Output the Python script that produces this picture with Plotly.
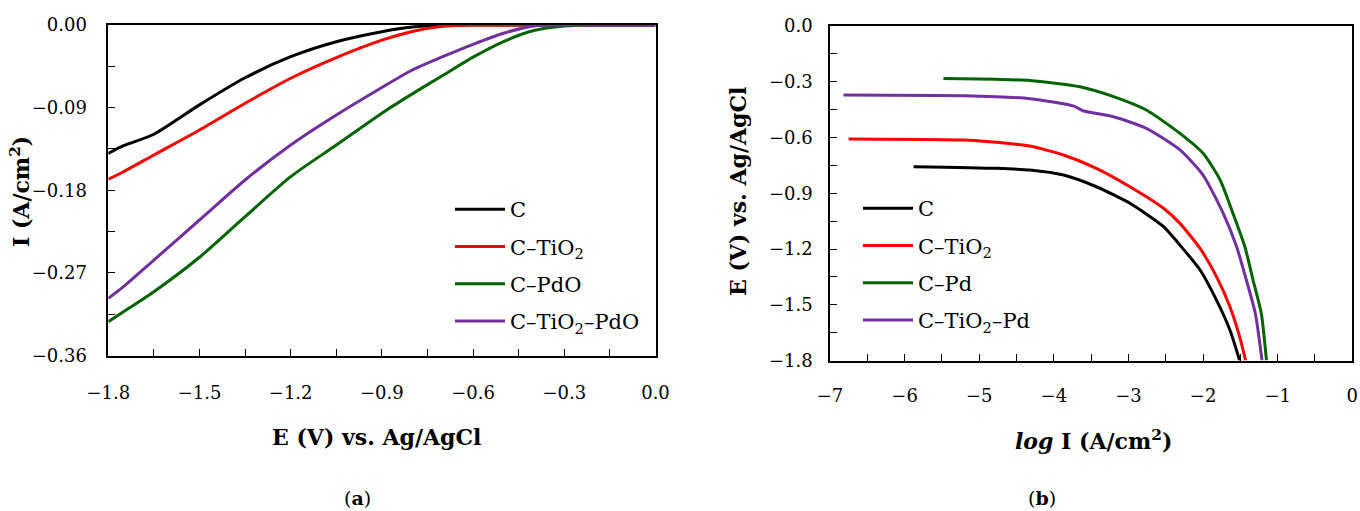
import plotly.graph_objects as go

# ---------- Panel (a): I vs E ----------
E_a      = [-1.80, -1.75, -1.65, -1.50, -1.35, -1.20, -1.05, -0.90, -0.80, -0.70, -0.60, -0.50, -0.40, -0.30, -0.20, -0.10, 0.00]
I_C      = [-0.140, -0.1315, -0.1190, -0.0870, -0.0575, -0.0345, -0.0182, -0.0073, -0.0022, -0.0003, 0.0, 0.0, 0.0, 0.0, 0.0, 0.0, 0.0]
I_CTiO2  = [-0.168, -0.1598, -0.1416, -0.1144, -0.0853, -0.0580, -0.0355, -0.0165, -0.0070, -0.0015, 0.0, 0.0, 0.0, 0.0, 0.0, 0.0, 0.0]
I_CPdO   = [-0.3232, -0.3123, -0.2905, -0.2530, -0.2088, -0.1652, -0.1307, -0.0960, -0.0750, -0.0550, -0.0350, -0.0180, -0.0060, -0.0012, 0.0, 0.0, 0.0]
I_CTiPdO = [-0.2977, -0.2850, -0.2560, -0.2124, -0.1688, -0.1307, -0.0980, -0.0680, -0.0490, -0.0345, -0.0210, -0.0090, -0.0010, 0.0, 0.0, 0.0, 0.0]

# ---------- Panel (b): Tafel plots ----------
logI_C    = [-5.88, -4.77, -4.32, -3.87, -3.43, -2.98, -2.53, -2.31, -2.04, -1.82, -1.64, -1.51]
E_C       = [-0.757, -0.766, -0.775, -0.802, -0.865, -0.954, -1.080, -1.179, -1.313, -1.475, -1.636, -1.800]
logI_Ti   = [-6.75, -5.21, -4.54, -4.32, -3.87, -3.43, -2.98, -2.53, -2.31, -2.04, -1.82, -1.64, -1.51, -1.43]
E_Ti      = [-0.608, -0.614, -0.635, -0.646, -0.694, -0.766, -0.865, -0.981, -1.062, -1.197, -1.349, -1.511, -1.672, -1.800]
logI_Pd   = [-5.48, -4.77, -4.32, -3.65, -3.20, -2.76, -2.31, -2.00, -1.77, -1.60, -1.44, -1.33, -1.22, -1.15]
E_Pd      = [-0.282, -0.287, -0.293, -0.327, -0.380, -0.452, -0.578, -0.685, -0.829, -1.008, -1.188, -1.367, -1.546, -1.800]
logI_TiPd = [-6.82, -5.21, -4.32, -3.74, -3.61, -3.20, -2.76, -2.31, -2.00, -1.73, -1.55, -1.42, -1.30, -1.21]
E_TiPd    = [-0.371, -0.375, -0.391, -0.430, -0.456, -0.488, -0.551, -0.667, -0.802, -1.008, -1.188, -1.367, -1.546, -1.800]

names_a = ["C", "C–TiO<sub>2</sub>", "C–PdO", "C–TiO<sub>2</sub>–PdO"]
names_b = ["C", "C–TiO<sub>2</sub>", "C–Pd", "C–TiO<sub>2</sub>–Pd"]
colors = ["#000000", "#FF0000", "#006400", "#7030A0"]

FONT = "DejaVu Serif"
fig = go.Figure()

for i, (ys, nm, col) in enumerate(zip([I_C, I_CTiO2, I_CPdO, I_CTiPdO], names_a, colors)):
    fig.add_trace(go.Scatter(x=E_a, y=ys, mode="lines", name=nm,
                             line=dict(color=col, width=3, shape="spline", smoothing=0.7),
                             xaxis="x", yaxis="y", legend="legend", legendgroup="a%d" % i))

for i, (xs, ys, nm, col) in enumerate(zip([logI_C, logI_Ti, logI_Pd, logI_TiPd],
                                            [E_C, E_Ti, E_Pd, E_TiPd], names_b, colors)):
    fig.add_trace(go.Scatter(x=xs, y=ys, mode="lines", name=nm,
                             line=dict(color=col, width=3, shape="spline", smoothing=0.6),
                             xaxis="x2", yaxis="y2", legend="legend2", legendgroup="b%d" % i))

W, H = 1360, 511
def px(x): return x / W
def py(y): return 1 - y / H

axcommon = dict(showline=True, linecolor="black", linewidth=1.5, mirror=True, automargin=False,
                ticks="inside", ticklen=7, tickcolor="black", showgrid=False, zeroline=False,
                ticklabeloverflow="allow",
                tickfont=dict(family=FONT, size=18, color="black"))

fig.update_layout(
    width=W, height=H, margin=dict(l=0, r=0, t=0, b=0, autoexpand=False),
    paper_bgcolor="white", plot_bgcolor="white",
    font=dict(family=FONT, color="black"),
    xaxis=dict(domain=[px(108.3), px(655.5)], range=[-1.8, 0.0], tick0=-1.8, dtick=0.3,
               tickformat=".1f", anchor="y", ticklabelstandoff=20,
               minor=dict(dtick=0.15, tick0=-1.8, ticks="inside", ticklen=7, tickcolor="black"),
               **axcommon),
    yaxis=dict(domain=[py(355.5), py(25)], range=[-0.36, 0.0], tick0=-0.36, dtick=0.09,
               tickformat=".2f", anchor="x", ticklabelstandoff=16,
               minor=dict(dtick=0.045, tick0=-0.36, ticks="inside", ticklen=7, tickcolor="black"),
               **axcommon),
    xaxis2=dict(domain=[px(830), px(1352.3)], range=[-7, 0], tick0=-7, dtick=1,
                tickformat="d", anchor="y2", ticklabelstandoff=18,
                minor=dict(dtick=0.5, tick0=-7, ticks="inside", ticklen=7, tickcolor="black"),
                **axcommon),
    yaxis2=dict(domain=[py(360.5), py(26)], range=[-1.8, 0.0], tick0=-1.8, dtick=0.3,
                tickformat=".1f", anchor="x2", ticklabelstandoff=12,
                minor=dict(dtick=0.15, tick0=-1.8, ticks="inside", ticklen=7, tickcolor="black"),
                **axcommon),
    legend=dict(x=px(450), y=py(189), xanchor="left", yanchor="top",
                bgcolor="rgba(0,0,0,0)", font=dict(family=FONT, size=21, color="black"),
                itemwidth=50, tracegroupgap=7),
    legend2=dict(x=px(858), y=py(188), xanchor="left", yanchor="top",
                 bgcolor="rgba(0,0,0,0)", font=dict(family=FONT, size=21, color="black"),
                 itemwidth=50, tracegroupgap=7),
    showlegend=True,
)

ann = [
    dict(x=px(20), y=py(192), text="<b>I (A/cm<sup>2</sup>)</b>", textangle=-90, size=22),
    dict(x=px(376), y=py(437), text="<b>E (V) vs. Ag/AgCl</b>", textangle=0, size=22),
    dict(x=px(738), y=py(192), text="<b>E (V) vs. Ag/AgCl</b>", textangle=-90, size=22),
    dict(x=px(1093), y=py(440), text="<b><i>log</i> I (A/cm<sup>2</sup>)</b>", textangle=0, size=22),
    dict(x=px(357), y=py(498), text="(<b>a</b>)", textangle=0, size=19),
    dict(x=px(1042), y=py(498), text="(<b>b</b>)", textangle=0, size=19),
]
for a in ann:
    fig.add_annotation(x=a["x"], y=a["y"], xref="paper", yref="paper", text=a["text"],
                       textangle=a["textangle"], showarrow=False, xanchor="center", yanchor="middle",
                       font=dict(family=FONT, size=a["size"], color="black"))

fig.write_html("out.html", config={"displayModeBar": False},
               post_script="document.body.style.margin='0';document.body.style.overflow='hidden';")
